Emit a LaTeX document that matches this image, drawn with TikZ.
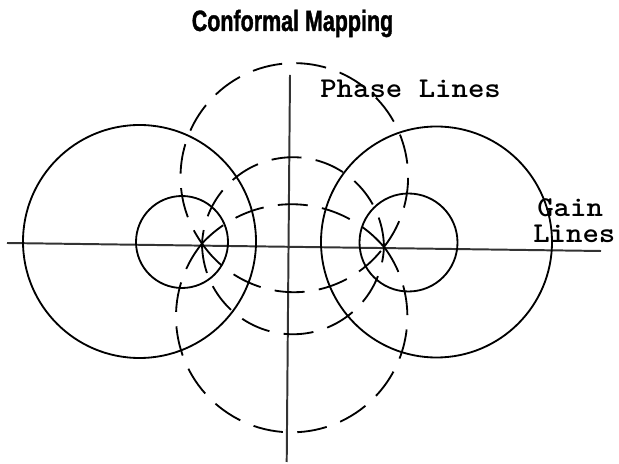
\documentclass[tikz,border=0pt]{standalone}
\usepackage{fontspec}
\newfontfamily\titlefont[FakeStretch=0.73,FakeBold=1.2]{Liberation Sans}

\begin{document}
\begin{tikzpicture}[x=0.025cm,y=0.025cm,
  ax/.style={line width=1.4pt,black!80},
  gl/.style={line width=1.3pt},
  ph/.style={line width=1.3pt,dash pattern=on 0.75cm off 0.36cm},
  lbl/.style={inner sep=0pt,anchor=base west,font=\fontsize{20.4}{24}\selectfont\ttfamily\bfseries}]
\useasboundingbox (0,0) rectangle (619,-464);

% axes
\draw[ax] (7,-243) -- (601,-251);
\draw[ax] (290,-75) -- (286.7,-462);

% gain lines
\draw[gl] (139.5,-241.5) circle[radius=116.5];
\draw[gl] (182,-242) circle[radius=46];
\draw[gl] (408.5,-242.5) circle[radius=49];
\draw[gl] (436.5,-242) circle[radius=115.5];

% phase lines, all through the two critical points
\begin{scope}[shift={(293,-245.25)},rotate=-1.1]
  \coordinate (F1) at (-91,0);
  \coordinate (F2) at (91,0);
  \foreach \a/\r in {-36.9/113.8,1.9/91.05,41.5/121.5}
    \draw[ph] (F2) arc[start angle=\a,end angle={180-(\a)},radius=\r];
  \foreach \a/\r in {38.1/115.7,-1.26/91.02,-35.4/111.6}
    \draw[ph] (F1) arc[start angle={180-(\a)},end angle={360+(\a)},radius=\r];
\end{scope}

\node[inner sep=0pt,anchor=base,font=\titlefont\bfseries\fontsize{20.9}{24}\selectfont]
  (title) at (292.5,-31) {Conformal Mapping};
\node[lbl] (phase) at (320,-98) {\scalebox{1.09}[1]{Phase Lines}};
\node[lbl] (gain) at (537,-217) {\scalebox{1.09}[1]{Gain}};
\node[lbl] (lines) at (533,-243) {\scalebox{1.09}[1]{Lines}};
\end{tikzpicture}
\end{document}
